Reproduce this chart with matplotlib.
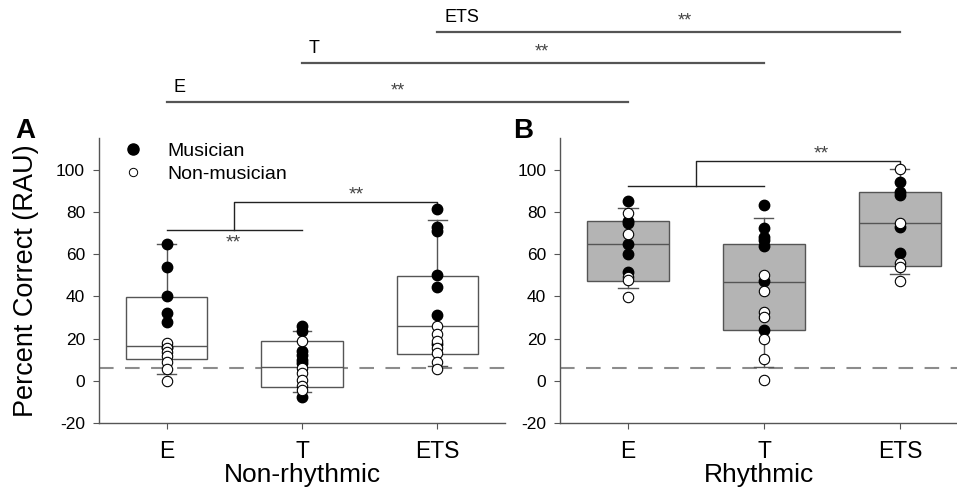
import matplotlib
matplotlib.use("Agg")
import matplotlib.pyplot as plt
from matplotlib.lines import Line2D

plt.rcParams['font.family'] = ['Liberation Sans', 'DejaVu Sans']
plt.rcParams['axes.unicode_minus'] = False

categories = ['E', 'T', 'ETS']
panel_names = ['Non-rhythmic', 'Rhythmic']
chance_level = 6.25

# box statistics: q1, median, q3, whisker low, whisker high
nonrhythmic_q1 = [10.2, -3.0, 12.6]
nonrhythmic_med = [16.7, 6.3, 26.1]
nonrhythmic_q3 = [39.8, 18.6, 49.8]
nonrhythmic_wlo = [3.3, -5.4, 7.2]
nonrhythmic_whi = [64.8, 23.6, 76.0]

rhythmic_q1 = [47.4, 24.1, 54.3]
rhythmic_med = [64.6, 46.9, 74.5]
rhythmic_q3 = [75.7, 64.6, 89.3]
rhythmic_wlo = [44.0, 6.5, 50.4]
rhythmic_whi = [82.0, 76.9, 100.2]

# individual scores (musicians filled, non-musicians open)
nonrhythmic_musician = [
    [65, 54, 40, 32, 28, 16],
    [26, 23.5, 14, 12, 10, 8.5, -7.7],
    [81.4, 73, 71, 50, 44.5, 31, 17.5],
]
nonrhythmic_nonmusician = [
    [18, 15.5, 13.5, 11.5, 9, 5.5, 0],
    [18.6, 6, 3.6, 0.5, -2.4, -4.3],
    [26, 22, 19, 15.5, 13, 9, 5.5],
]
rhythmic_musician = [
    [85.3, 75.8, 74.6, 64.6, 60, 51.7],
    [83.1, 72.4, 67.9, 66.6, 63.8, 47.4, 24.1],
    [94.2, 89.4, 87.9, 72.9, 60.3],
]
rhythmic_nonmusician = [
    [79.6, 69.5, 49.3, 47.7, 39.8],
    [50.1, 42.7, 32.8, 30.4, 19.7, 10.4, 0.5],
    [100.2, 74.5, 55.6, 53.7, 47.4],
]

GRAY = '#555555'
STAR = '#444444'

fig = plt.figure(figsize=(9.57, 4.96), dpi=100)
ax_a = fig.add_axes([0.1034, 0.1472, 0.4243, 0.5746])
ax_b = fig.add_axes([0.5852, 0.1472, 0.4148, 0.5746])


def draw_panel(ax, q1, med, q3, wlo, whi, mus, non, face, xlabel):
    stats = []
    for i in range(len(categories)):
        stats.append(dict(q1=q1[i], med=med[i], q3=q3[i],
                          whislo=wlo[i], whishi=whi[i], fliers=[]))
    pos = list(range(1, len(categories) + 1))
    ax.bxp(stats, positions=pos, widths=0.6, patch_artist=True,
           showfliers=False, capwidths=0.14,
           boxprops=dict(facecolor=face, edgecolor=GRAY, linewidth=1.0),
           whiskerprops=dict(color=GRAY, linewidth=1.0),
           capprops=dict(color=GRAY, linewidth=1.0),
           medianprops=dict(color=GRAY, linewidth=1.0))
    for p, m, n in zip(pos, mus, non):
        ax.plot([p] * len(m), m, 'o', color='black', markersize=7.5,
                zorder=3, clip_on=False)
        ax.plot([p] * len(n), n, 'o', markerfacecolor='white',
                markeredgecolor='black', markeredgewidth=0.8,
                markersize=7.5, zorder=4, clip_on=False)
    ax.axhline(chance_level, color='#8c8c8c', linewidth=1.5,
               dashes=(7, 5.5), zorder=1)

    ax.set_xlim(0.5, 3.5)
    ax.set_ylim(-20, 115)
    ax.set_yticks(range(-20, 101, 20))
    ax.set_xticks(pos)
    ax.set_xticklabels(categories, fontsize=16.5)
    ax.tick_params(axis='y', labelsize=12.5, length=4, pad=6, color=GRAY)
    ax.tick_params(axis='x', length=4, pad=8, color=GRAY)
    ax.set_xlabel(xlabel, fontsize=19, labelpad=0)
    for s in ['top', 'right']:
        ax.spines[s].set_visible(False)
    for s in ['left', 'bottom']:
        ax.spines[s].set_color(GRAY)
        ax.spines[s].set_linewidth(1.0)


draw_panel(ax_a, nonrhythmic_q1, nonrhythmic_med, nonrhythmic_q3,
           nonrhythmic_wlo, nonrhythmic_whi, nonrhythmic_musician,
           nonrhythmic_nonmusician, 'white', panel_names[0])
draw_panel(ax_b, rhythmic_q1, rhythmic_med, rhythmic_q3,
           rhythmic_wlo, rhythmic_whi, rhythmic_musician,
           rhythmic_nonmusician, '#b4b4b4', panel_names[1])
ax_b.set_xlim(0.5, 3.42)

ax_a.set_ylabel('Percent Correct (RAU)', fontsize=19.5, labelpad=12)

# legend
handles = [
    Line2D([], [], marker='o', linestyle='none', color='black', markersize=8),
    Line2D([], [], marker='o', linestyle='none', markerfacecolor='white',
           markeredgecolor='black', markeredgewidth=0.7, markersize=6),
]
ax_a.legend(handles, ['Musician', 'Non-musician'], loc='upper left',
            bbox_to_anchor=(0.03, 1.02), frameon=False, fontsize=14,
            handlelength=1.2, handletextpad=1.2, labelspacing=0.3,
            borderpad=0)

# within-panel significance brackets
sig_kw = dict(color='#222222', linewidth=1.0, clip_on=False)
ax_a.plot([1, 2], [71.3, 71.3], **sig_kw)
ax_a.plot([1.5, 1.5, 3, 3], [71.3, 84.7, 84.7, 82.4], **sig_kw)
ax_a.text(1.49, 65.5, '**', ha='center', va='center', fontsize=14, color=STAR)
ax_a.text(2.4, 88.2, '**', ha='center', va='center', fontsize=14, color=STAR)

ax_b.plot([1, 2], [92.3, 92.3], **sig_kw)
ax_b.plot([1.5, 1.5, 3, 3], [92.3, 103.9, 103.9, 102.8], **sig_kw)
ax_b.text(2.42, 107.6, '**', ha='center', va='center', fontsize=14, color=STAR)

# across-panel brackets (same condition, non-rhythmic vs rhythmic)
to_fig = fig.transFigure.inverted()


def fig_x(ax, xv):
    return to_fig.transform(ax.transData.transform((xv, 0)))[0]


top_levels = [0.795, 0.8724, 0.936]
star_shift = [0.5, 0.52, 0.535]
for i, cat in enumerate(categories):
    x0 = fig_x(ax_a, i + 1)
    x1 = fig_x(ax_b, i + 1)
    y = top_levels[i]
    fig.add_artist(Line2D([x0, x1], [y, y], transform=fig.transFigure,
                          color=GRAY, linewidth=1.6))
    fig.text(x0 + 0.007, y + 0.012, cat, fontsize=13,
             family=['Liberation Sans Narrow', 'Liberation Sans'],
             ha='left', va='bottom')
    fig.text(x0 + (x1 - x0) * star_shift[i], y + 0.022, '**', fontsize=13,
             color=STAR, ha='center', va='center')

# panel letters
fig.text(0.0157, 0.7218, 'A', fontsize=20, fontweight='bold', va='baseline')
fig.text(0.536, 0.7218, 'B', fontsize=20, fontweight='bold', va='baseline')

fig.savefig('out.png', dpi=100)
